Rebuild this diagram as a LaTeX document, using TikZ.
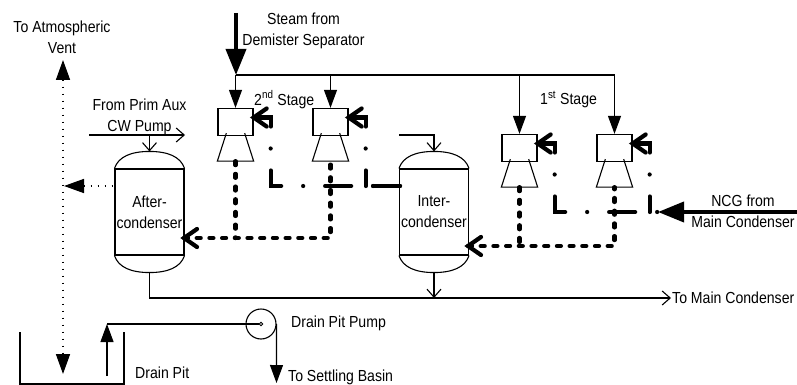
\documentclass[tikz,border=0pt]{standalone}
\usepackage{fontspec}
\setmainfont[FakeStretch=0.88]{Liberation Sans}
\usetikzlibrary{arrows.meta,calc}
\tikzset{
	every node/.style={font=\fontsize{16}{21}\selectfont,inner sep=0pt,align=center},
	pipe/.style={line width=1.1pt},
	openarrow/.style={pipe,-{Straight Barb[length=8pt,width=14pt]}},
	feedarrow/.style={pipe,-{Triangle[length=18pt,width=13pt]}},
	heavyarrow/.style={line width=3.8pt,-{Triangle[length=26pt,width=20pt]}},
	vessel/.style={draw,pipe,minimum width=69pt,minimum height=86pt},
	ejector/.style={draw,line width=1.3pt,minimum width=35pt,minimum height=27pt},
	heavyline/.style={line width=4.2pt,line cap=round},
	motive/.style={heavyline,dash pattern=on 26pt off 22pt on 0pt off 22pt},
	outlet/.style={heavyline,dash pattern=on 4pt off 8.7pt},
	vent/.style={line width=1.6pt,dash pattern=on 1.6pt off 5.4pt}
}
\begin{document}
\begin{tikzpicture}[x=1pt,y=-1pt]
	\useasboundingbox (0,0) rectangle (797,385);
	\node[vessel] (aftercond) at (149.5,212) {After-\\condenser};
	\node[vessel] (intercond) at (434,212) {Inter-\\condenser};
	\foreach \v in {aftercond,intercond}{
		\draw[pipe] (\v.north west) .. controls +(4,-12) and +(-18,0) .. ($(\v.north)+(0,-17)$) .. controls +(18,0) and +(-4,-12) .. (\v.north east);
		\draw[pipe] (\v.south west) .. controls +(4,12) and +(-18,0) .. ($(\v.south)+(0,17)$) coordinate (\v-foot) .. controls +(18,0) and +(-4,12) .. (\v.south east);
	}
	\node[ejector] (ejA) at (235.5,122) {};
	\node[ejector] (ejB) at (330.5,122) {};
	\node[ejector] (ejC) at (519.5,148) {};
	\node[ejector] (ejD) at (614.5,148) {};
	\foreach \e in {ejA,ejB,ejC,ejD}{
		\draw[pipe] ($(\e.south west)+(9,-3)$)--($(\e.south west)+(0,25)$)--($(\e.south east)+(0,25)$)--($(\e.south east)+(-9,-3)$);
		\coordinate (\e-out) at ($(\e.south)+(0,25)$);
		\coordinate (\e-in) at ($(\e.east)+(0,-4.5)$);
		\coordinate (\e-turn) at ($(\e-in)+(17,0)$);
	}
	% steam header
	\coordinate (steam) at (236,13);
	\coordinate (header) at (236,75);
	\draw[heavyarrow] (steam)--(header);
	\draw[pipe] (header)--(ejD |- header);
	\foreach \e in {ejA,ejB,ejC,ejD}
		\draw[feedarrow] (\e |- header)--(\e.north);
	% motive lines
	\coordinate (jetA) at (400,186);
	\coordinate (jetB) at (373,186);
	\coordinate (jetC) at (658,212);
	\coordinate (ncg) at (797,212);
	\draw[motive] (ejA-in)--(ejA-turn)--(ejA-turn |- jetA)--(jetA);
	\draw[motive] (ejB-in)--(ejB-turn)--(ejB-turn |- jetA);
	\draw[heavyline] (jetB)--(jetA);
	\draw[motive] (ejC-in)--(ejC-turn)--(ejC-turn |- jetC)--(jetC);
	\draw[motive] (ejD-in)--(ejD-turn)--(ejD-turn |- jetC);
	\draw[heavyarrow] (ncg)--(jetC);
	% ejector outlets
	\coordinate (dropA) at (184,238);
	\coordinate (dropB) at (468,246);
	\draw[outlet] (dropA)--(ejB-out |- dropA)--(ejB-out);
	\draw[outlet] (ejA-out)--(ejA-out |- dropA);
	\draw[outlet] (dropB)--(ejD-out |- dropB)--(ejD-out);
	\draw[outlet] (ejC-out)--(ejC-out |- dropB);
	\foreach \t in {ejA-in,ejB-in,ejC-in,ejD-in,dropA,dropB}
		\draw[heavyline] ($(\t)+(13,-9)$)--(\t)--($(\t)+(13,9)$);
	% cooling water
	\coordinate (cwL) at (89,135);
	\coordinate (cwR) at (185,135);
	\draw[openarrow] (cwL)--(cwR);
	\draw[openarrow] (aftercond |- cwL)--($(aftercond.north)+(0,-17)$);
	\coordinate (cwI) at (399,135);
	\draw[openarrow] (cwI)--(intercond |- cwI)--($(intercond.north)+(0,-17)$);
	% condensate
	\coordinate (main) at (671,298);
	\draw[openarrow] (aftercond-foot)--(aftercond-foot |- main)--(main);
	\draw[openarrow] (intercond-foot)--(intercond-foot |- main);
	% vent
	\coordinate (ventT) at (63,60);
	\coordinate (ventB) at (63,374);
	\coordinate (ventS) at (64,186);
	\draw[vent,{Triangle[length=20pt,width=14pt]}-{Triangle[length=20pt,width=14pt]}] (ventT)--(ventB);
	\draw[vent,{Triangle[length=20pt,width=14pt]}-] (ventS)--(aftercond.west |- ventS);
	% drain pit
	\draw[pipe] (20,332)--(20,384)--(124,384)--(124,332);
	\node[circle,draw,pipe,minimum size=30pt] (pump) at (261,324) {};
	\node[circle,draw,line width=1pt,fill=white,minimum size=3.5pt] (eye) at (pump) {};
	\coordinate (pitin) at (107,376);
	\coordinate (pitup) at (107,324);
	\coordinate (basin) at (276.5,383);
	\draw[feedarrow] (pitin)--(pitup);
	\draw[pipe] (pitup)--(eye);
	\draw[feedarrow] (pump.east)--(basin);
	% labels
	\node (lvent) at (62,37.5) {To Atmospheric\\Vent};
	\node (lsteam) at (303.5,30.5) {Steam from\\Demister Separator};
	\node (lcw) at (139.5,116.5) {From Prim Aux\\CW Pump};
	\node[anchor=west] (lsec) at (254,99.5) {2\textsuperscript{nd} Stage};
	\node[anchor=west] (lfir) at (540,99.5) {1\textsuperscript{st} Stage};
	\node (lncg) at (743,211.5) {NCG from\\Main Condenser};
	\node[anchor=west] (lmain) at (672,298) {To Main Condenser};
	\node[anchor=west] (lpump) at (291,323) {Drain Pit Pump};
	\node[anchor=west] (lpit) at (135,373) {Drain Pit};
	\node[anchor=west] (lbasin) at (288,377) {To Settling Basin};
\end{tikzpicture}
\end{document}
